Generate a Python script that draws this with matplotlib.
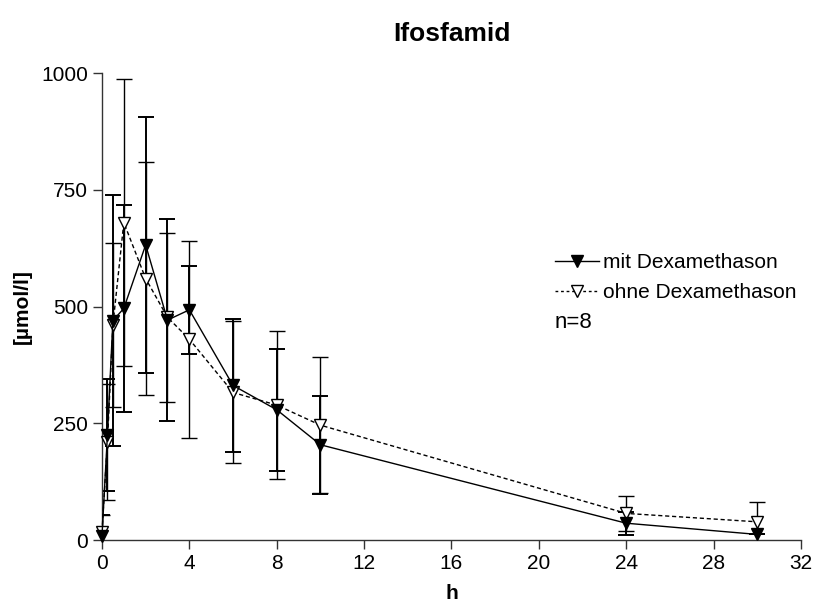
import matplotlib
matplotlib.use('Agg')
import matplotlib.pyplot as plt
from matplotlib.lines import Line2D

plt.rcParams['font.family'] = ['Liberation Sans', 'DejaVu Sans']

# Zeitpunkte (h) und Mittelwerte / SD in µmol/l
zeit = [0, 0.25, 0.5, 1, 2, 3, 4, 6, 8, 10, 24, 30]
mit_dexa = [8, 225, 470, 496, 632, 471, 493, 331, 279, 204, 36, 12]
mit_sd = [45, 120, 268, 222, 275, 217, 94, 142, 131, 105, 25, 0]
ohne_dexa = [18, 210, 460, 680, 560, 477, 430, 316, 289, 246, 57, 39]
ohne_sd = [35, 125, 176, 308, 250, 181, 211, 152, 159, 145, 38, 43]

x_ticks = [0, 4, 8, 12, 16, 20, 24, 28, 32]
y_ticks = [0, 250, 500, 750, 1000]

fig = plt.figure(figsize=(8.19, 6.08), dpi=100)
ax = fig.add_axes([0.1245, 0.1118, 0.8535, 0.768])

# Fehlerbalken (an der Achse abgeschnitten)
ax.errorbar(zeit, ohne_dexa, yerr=ohne_sd, fmt='none', ecolor='black',
            capsize=5.5, elinewidth=1, capthick=1, zorder=2)
ax.errorbar(zeit, mit_dexa, yerr=mit_sd, fmt='none', ecolor='black',
            capsize=5.5, elinewidth=1.4, capthick=1.4, zorder=2)

# Linien und Symbole
ax.plot(zeit, ohne_dexa, color='black', lw=1, dashes=(3, 2), marker='v',
        mfc='white', mec='black', mew=1, ms=9, clip_on=False, zorder=3)
ax.plot(zeit, mit_dexa, color='black', lw=1, marker='v', mfc='black',
        mec='black', ms=9, clip_on=False, zorder=4)

ax.set_xlim(0, 32)
ax.set_ylim(0, 1000)
ax.set_xticks(x_ticks)
ax.set_yticks(y_ticks)
for s in ['top', 'right']:
    ax.spines[s].set_visible(False)
for s in ['left', 'bottom']:
    ax.spines[s].set_color('#333333')
    ax.spines[s].set_linewidth(1)
ax.tick_params(direction='out', length=6.5, width=1, color='#333333',
               labelsize=15, pad=3.5)

ax.set_title('Ifosfamid', fontsize=19, fontweight='bold', pad=23)
ax.set_xlabel('h', fontsize=15, fontweight='bold')
ax.set_ylabel('[µmol/l]', fontsize=15, fontweight='bold')
ax.xaxis.set_label_coords(0.5, -0.094)
ax.yaxis.set_label_coords(-0.1, 0.5)

handles = [
    Line2D([], [], color='black', lw=1, marker='v', ms=9),
    Line2D([], [], color='black', lw=1, dashes=(2, 2), marker='v',
           mfc='white', mec='black', ms=9),
]
fig.legend(handles, ['mit Dexamethason', 'ohne Dexamethason'],
           loc='upper left', bbox_to_anchor=(555 / 819, 1 - 253 / 608),
           frameon=False, fontsize=15, handlelength=2.1, handletextpad=0.2,
           borderpad=0, borderaxespad=0, labelspacing=0.55)
fig.text(555 / 819, 1 - 322 / 608, 'n=8', fontsize=16, va='center')

fig.savefig('out.png', dpi=100)
